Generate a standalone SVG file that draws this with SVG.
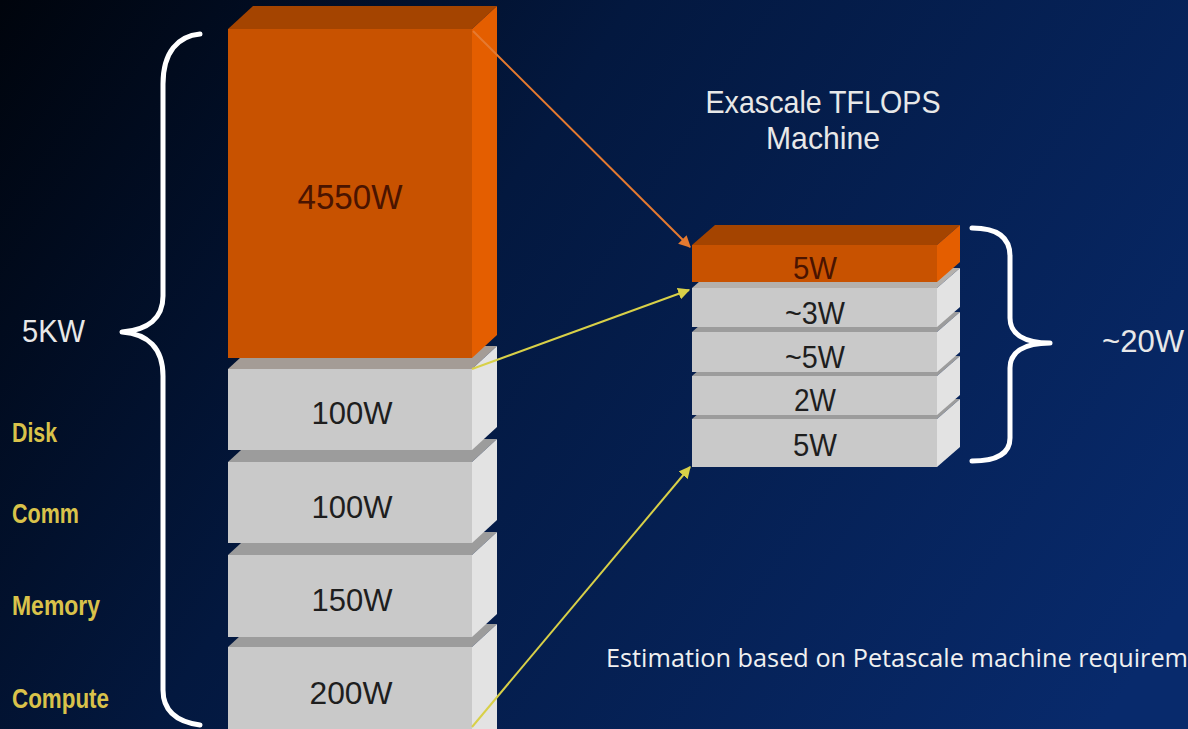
<svg xmlns="http://www.w3.org/2000/svg" width="1188" height="729" viewBox="0 0 1188 729">
<defs>
<linearGradient id="bg" gradientUnits="userSpaceOnUse" x1="0" y1="0" x2="1100" y2="729">
<stop offset="0" stop-color="#00040c"/>
<stop offset="0.4" stop-color="#03183f"/>
<stop offset="1" stop-color="#082a6c"/>
</linearGradient>
<marker id="arrO" viewBox="0 0 10 10" refX="9" refY="5" markerWidth="6" markerHeight="6" orient="auto" markerUnits="strokeWidth">
<path d="M0,0 L10,5 L0,10 z" fill="#e57a30"/>
</marker>
<marker id="arrY" viewBox="0 0 10 10" refX="9" refY="5" markerWidth="6" markerHeight="6" orient="auto" markerUnits="strokeWidth">
<path d="M0,0 L10,5 L0,10 z" fill="#d8d048"/>
</marker>
<style>
.of{fill:#c85200}.ot{fill:#a44400}.or{fill:#e45e00}
.gf{fill:#c9c9c9}.gt{fill:#9c9c9c}.gr{fill:#e3e3e3}
.val{font-family:"Liberation Sans",Arial,sans-serif;font-size:32px;fill:#1e1e1e;text-anchor:middle}
.valo{fill:#4a1400}
.big{font-size:35px}
.lbl{font-family:"Liberation Sans",Arial,sans-serif;font-size:28px;font-weight:bold;fill:#d9c24a}
.wt{font-family:"Liberation Sans",Arial,sans-serif;font-size:32px;fill:#e8e8e8}
.brace{fill:none;stroke:#ffffff;stroke-width:5;stroke-linecap:round;stroke-linejoin:round}
.conO{fill:none;stroke:#e57a30;stroke-width:2}
.conY{fill:none;stroke:#d8d048;stroke-width:2}
</style>
</defs>
<rect x="0" y="0" width="1188" height="729" fill="url(#bg)"/>

<!-- Left stack (drawn bottom to top) -->
<g id="left-compute">
<polygon class="gt" points="228,647 253,624 497,624 472,647"/>
<polygon class="gr" points="472,647 497,624 497,729 472,729"/>
<rect class="gf" x="228" y="647" width="244" height="90"/>
<text class="val" x="351" y="704" textLength="83" lengthAdjust="spacingAndGlyphs">200W</text>
</g>
<g id="left-memory">
<polygon class="gt" points="228,555 253,532 497,532 472,555"/>
<polygon class="gr" points="472,555 497,532 497,614 472,637"/>
<rect class="gf" x="228" y="555" width="244" height="82"/>
<text class="val" x="352" y="611" textLength="81" lengthAdjust="spacingAndGlyphs">150W</text>
</g>
<g id="left-comm">
<polygon class="gt" points="228,462 253,439 497,439 472,462"/>
<polygon class="gr" points="472,462 497,439 497,520 472,543"/>
<rect class="gf" x="228" y="462" width="244" height="81"/>
<text class="val" x="352" y="518" textLength="81" lengthAdjust="spacingAndGlyphs">100W</text>
</g>
<g id="left-disk">
<polygon fill="#a49c96" points="228,369 253,346 497,346 472,369"/>
<polygon class="gr" points="472,369 497,346 497,427 472,450"/>
<rect class="gf" x="228" y="369" width="244" height="81"/>
<text class="val" x="352" y="424" textLength="81" lengthAdjust="spacingAndGlyphs">100W</text>
</g>
<g id="left-other">
<polygon class="ot" points="228,29 253,6 497,6 472,29"/>
<polygon class="or" points="472,29 497,6 497,335 472,358"/>
<rect class="of" x="228" y="29" width="244" height="329"/>
<text class="val valo big" x="350" y="209" textLength="105" lengthAdjust="spacingAndGlyphs">4550W</text>
</g>

<!-- Right stack -->
<g id="right-compute">
<polygon class="gt" points="692,419 715,399 960,399 937,419"/>
<polygon class="gr" points="937,419 960,399 960,447 937,467"/>
<rect class="gf" x="692" y="419" width="245" height="48"/>
<text class="val" x="815" y="456" textLength="44" lengthAdjust="spacingAndGlyphs">5W</text>
</g>
<g id="right-memory">
<polygon class="gt" points="692,376 715,356 960,356 937,376"/>
<polygon class="gr" points="937,376 960,356 960,395 937,415"/>
<rect class="gf" x="692" y="376" width="245" height="39"/>
<text class="val" x="815" y="411" textLength="42" lengthAdjust="spacingAndGlyphs">2W</text>
</g>
<g id="right-comm">
<polygon class="gt" points="692,332 715,312 960,312 937,332"/>
<polygon class="gr" points="937,332 960,312 960,352 937,372"/>
<rect class="gf" x="692" y="332" width="245" height="40"/>
<text class="val" x="815" y="368" textLength="60" lengthAdjust="spacingAndGlyphs">~5W</text>
</g>
<g id="right-disk">
<polygon fill="#b4b0ac" points="692,288 715,268 960,268 937,288"/>
<polygon class="gr" points="937,288 960,268 960,307 937,327"/>
<rect class="gf" x="692" y="288" width="245" height="39"/>
<text class="val" x="815" y="324" textLength="60" lengthAdjust="spacingAndGlyphs">~3W</text>
</g>
<g id="right-other">
<polygon class="ot" points="692,245 715,225 960,225 937,245"/>
<polygon class="or" points="937,245 960,225 960,262 937,282"/>
<rect class="of" x="692" y="245" width="245" height="37"/>
<text class="val valo" x="815" y="279" textLength="44" lengthAdjust="spacingAndGlyphs">5W</text>
</g>

<!-- Braces -->
<g id="brace-left">
<path class="brace" d="M200,34 C178,36 163,52 163,84 L163,296 C163,318 148,330 122,332 C148,334 163,348 163,376 L163,690 C163,712 178,722 200,725"/>
</g>
<g id="brace-right">
<path class="brace" d="M972,228 C996,228 1010,236 1010,256 L1010,318 C1010,334 1024,343 1050,343 C1024,343 1010,352 1010,368 L1010,438 C1010,454 996,461 972,461"/>
</g>

<!-- Connectors -->
<g id="connectors">
<line class="conO" x1="473" y1="31" x2="690" y2="247" marker-end="url(#arrO)"/>
<line class="conY" x1="472" y1="369" x2="689" y2="290" marker-end="url(#arrY)"/>
<line class="conY" x1="472" y1="727" x2="690" y2="467" marker-end="url(#arrY)"/>
</g>

<!-- Labels -->
<g id="labels">
<text class="wt" x="22" y="342" textLength="63" lengthAdjust="spacingAndGlyphs">5KW</text>
<text class="wt" x="1102" y="352" textLength="82" lengthAdjust="spacingAndGlyphs">~20W</text>
<text class="wt" x="823" y="113" text-anchor="middle" textLength="235" lengthAdjust="spacingAndGlyphs">Exascale TFLOPS</text>
<text class="wt" x="823" y="149" text-anchor="middle" textLength="114" lengthAdjust="spacingAndGlyphs">Machine</text>
<text class="lbl" x="12" y="442" textLength="45" lengthAdjust="spacingAndGlyphs">Disk</text>
<text class="lbl" x="12" y="523" textLength="67" lengthAdjust="spacingAndGlyphs">Comm</text>
<text class="lbl" x="12" y="615" textLength="88" lengthAdjust="spacingAndGlyphs">Memory</text>
<text class="lbl" x="12" y="708" textLength="97" lengthAdjust="spacingAndGlyphs">Compute</text>
<text x="606" y="667" font-family="'Open Sans','Liberation Sans',sans-serif" font-size="25" fill="#f0f0f0" textLength="582" lengthAdjust="spacingAndGlyphs">Estimation based on Petascale machine requirem</text>
</g>
</svg>
